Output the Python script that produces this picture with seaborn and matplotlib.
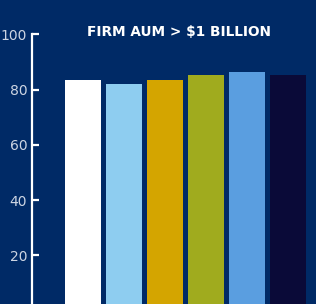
import matplotlib
matplotlib.use('Agg')
import matplotlib.pyplot as plt
import seaborn as sns

# values
groups = ['Group 1', 'Group 2', 'Group 3', 'Group 4', 'Group 5', 'Group 6']
scores = [83.4, 82.2, 83.4, 85.2, 86.3, 85.2]
bar_colors = ['#ffffff', '#8ecdf0', '#d4a500', '#a0ab1e', '#5a9ee0', '#0a0a38']
y_ticks = [20, 40, 60, 80, 100]

bg = '#002a66'
label_grey = '#cdd5e3'

sns.set_style('white')
plt.rcParams['font.family'] = ['DejaVu Sans']

fig = plt.figure(figsize=(3.16, 3.04), dpi=100, facecolor=bg)
ax = fig.add_axes([32 / 316, 0, 1 - 32 / 316, 1 - 34.5 / 304])
ax.set_facecolor(bg)

sns.barplot(x=groups, y=scores, hue=groups, palette=bar_colors,
            width=0.9, ax=ax, legend=False, saturation=1, linewidth=0)

ax.set_xlim(-1.244, 5.683)
ax.set_ylim(2.4, 100)
ax.set_yticks(y_ticks)
ax.set_xticks([])
ax.set_xlabel('')
ax.set_ylabel('')

for side in ['top', 'right', 'bottom']:
    ax.spines[side].set_visible(False)
ax.spines['left'].set_color('white')
ax.spines['left'].set_linewidth(1.6)
ax.tick_params(axis='y', direction='in', length=5, width=1.6, color='white',
               labelcolor=label_grey, labelsize=10, pad=3.5, left=True)

fig.text(179 / 316, 1 - 32.5 / 304, 'FIRM AUM > $1 BILLION', color='white',
         fontsize=9.8, fontweight='bold', ha='center', va='center')

fig.savefig('out.png', dpi=100, facecolor=bg)
